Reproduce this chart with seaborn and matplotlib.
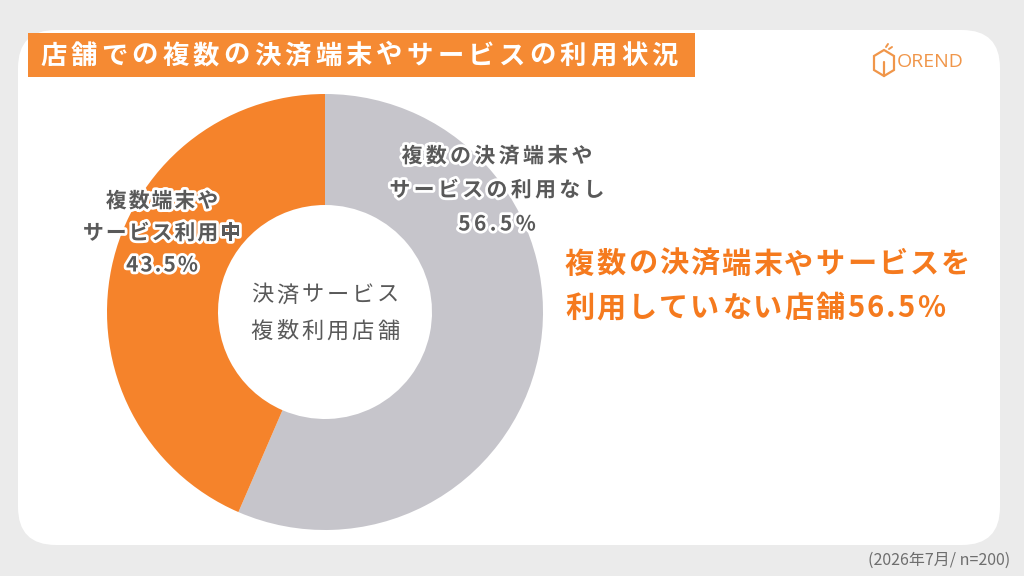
import matplotlib
matplotlib.use("Agg")
import matplotlib.pyplot as plt
import matplotlib.patheffects as pe
from matplotlib.patches import FancyBboxPatch, Rectangle, Polygon
import seaborn as sns

sns.set_theme(style="white")
plt.rcParams['font.family'] = ['Noto Sans CJK JP', 'DejaVu Sans']

# ---- data ----
categories = ["複数の決済端末や\nサービスの利用なし", "複数端末や\nサービス利用中"]
values = [56.5, 43.5]
colors = ["#c6c5cb", "#f5832b"]
title = "店舗での複数の決済端末やサービスの利用状況"
center_text = "決済サービス\n複数利用店舗"
highlight = "複数の決済端末やサービスを\n利用していない店舗56.5%"
footnote = "(2026年7月/ n=200)"
brand = "OREND"

W, H = 1024, 576
fig = plt.figure(figsize=(W / 100, H / 100), dpi=100)
fig.patch.set_facecolor("#ebebeb")

bg = fig.add_axes([0, 0, 1, 1])
bg.set_xlim(0, W)
bg.set_ylim(H, 0)
bg.axis("off")

# white rounded panel
bg.add_patch(FancyBboxPatch((18, 30), 982, 515, boxstyle="round,pad=0,rounding_size=38",
                            fc="white", ec="none"))
# title box
bg.add_patch(Rectangle((28, 33), 667, 44, fc="#f58a33", ec="none"))

# donut
cx, cy, r = 325, 312, 218
ax = fig.add_axes([(cx - r) / W, 1 - (cy + r) / H, 2 * r / W, 2 * r / H])
ax.pie(values, colors=colors, startangle=90, counterclock=False, radius=1.0,
       wedgeprops=dict(width=1 - 107 / 218, edgecolor="none"))
ax.set_xlim(-1, 1)
ax.set_ylim(-1, 1)
ax.set_aspect("auto")
ax.axis("off")

# overlay for text
ov = fig.add_axes([0, 0, 1, 1])
ov.set_xlim(0, W)
ov.set_ylim(H, 0)
ov.axis("off")
ov.patch.set_alpha(0)

renderer = fig.canvas.get_renderer()


def spaced_line(x, y, s, spacing, ha="left", **kw):
    """Draw one line of text with extra letter spacing (pixels)."""
    arts, widths = [], []
    for ch in s:
        t = ov.text(0, y, ch, ha="left", va="center", **kw)
        w = t.get_window_extent(renderer).width
        arts.append(t)
        widths.append(w)
    total = sum(widths) + spacing * (len(s) - 1)
    if ha == "center":
        x0 = x - total / 2
    elif ha == "right":
        x0 = x - total
    else:
        x0 = x
    for t, w in zip(arts, widths):
        t.set_x(x0)
        x0 += w + spacing


def spaced_block(x, y, s, spacing, line_h, ha="left", **kw):
    lines = s.split("\n")
    n = len(lines)
    for i, ln in enumerate(lines):
        yy = y + (i - (n - 1) / 2) * line_h
        spaced_line(x, yy, ln, spacing, ha=ha, **kw)


spaced_line(40, 56, title, 4.2, color="white", fontsize=19, fontweight="bold")

# logo
ov.add_patch(Polygon([(874, 56), (884, 50), (894, 56), (894, 70), (884, 76), (874, 70)],
                     closed=True, fc="none", ec="#f0964a", lw=1.6))
ov.plot([884, 884], [62, 76], color="#f0964a", lw=1.6)
ov.plot([886, 888], [47, 44], color="#f0964a", lw=1.4)
ov.plot([889, 892], [49, 47], color="#f0964a", lw=1.4)
ov.text(897, 62, brand, color="#f0964a", fontsize=14, ha="left", va="center",
        fontweight="medium", family=["Open Sans", "DejaVu Sans"])

# footnote
ov.text(1010, 560, footnote, color="#6e6e6e", fontsize=11.5, va="center", ha="right")

stroke = [pe.withStroke(linewidth=4, foreground="white")]
spaced_block(497, 190, f"{categories[0]}\n{values[0]}%", 3.4, 34, ha="center",
             color="#595959", fontsize=15, fontweight="bold", path_effects=stroke)
spaced_block(162, 233, f"{categories[1]}\n{values[1]}%", 2.0, 32, ha="center",
             color="#595959", fontsize=15, fontweight="bold", path_effects=stroke)
spaced_block(325, 313, center_text, 3.0, 36, ha="center",
             color="#595959", fontsize=16)

spaced_block(565, 286, highlight, 2.2, 44, ha="left",
             color="#f57a1e", fontsize=21, fontweight="bold")

fig.savefig("out.png", dpi=100, facecolor=fig.get_facecolor())
